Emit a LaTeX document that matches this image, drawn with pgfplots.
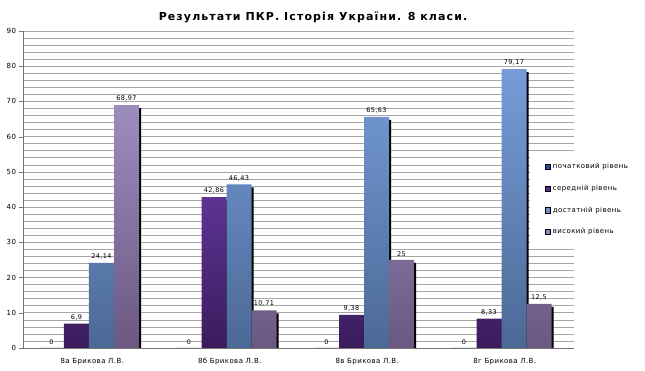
\documentclass[border=0pt]{standalone}
\usepackage{fontspec}
\setmainfont{DejaVu Sans}
\newfontfamily\titlefont[LetterSpace=10]{DejaVu Sans}
\newfontfamily\smallfont[LetterSpace=6]{DejaVu Sans}
\usepackage{pgfplots}
\pgfplotsset{compat=1.18}
\definecolor{cA}{HTML}{1F4E9C}
\definecolor{cBt}{HTML}{5C3494}
\definecolor{cBb}{HTML}{3A1C5C}
\definecolor{cCt}{HTML}{769CD8}
\definecolor{cCb}{HTML}{4B6996}
\definecolor{cDt}{HTML}{9D8CBE}
\definecolor{cDb}{HTML}{6A5882}
\definecolor{gridc}{HTML}{A6A6A6}
\pgfplotstableread{
x a b c d
0 0 6.9 24.14 68.97
1 0 42.86 46.43 10.71
2 0 9.38 65.63 25
3 0 8.33 79.17 12.5
}\datatable
\begin{document}
\begin{tikzpicture}
\path[use as bounding box] (-23.5pt,-23pt) rectangle (621.5pt,348pt);
\begin{axis}[
  at={(0pt,0pt)}, anchor=south west,
  scale only axis, width=550pt, height=317pt,
  xmin=-0.5, xmax=3.5, ymin=0, ymax=90,
  ybar, bar width=25pt,
  axis x line*=bottom, axis y line*=left,
  axis line style={gridc!70!black, line width=0.6pt},
  xtick={0,1,2,3},
  xticklabels={8а Брикова Л.В., 8б Брикова Л.В., 8в Брикова Л.В., 8г Брикова Л.В.},
  x tick label style={font=\smallfont\fontsize{7}{8}\selectfont, yshift=-3pt},
  major x tick style={draw=none},
  extra x ticks={-0.5,0.5,1.5,2.5,3.5},
  extra x tick labels={},
  extra x tick style={major tick length=4pt, tick align=outside, tick style={draw=gridc!70!black}, grid=none},
  ytick={0,10,...,90},
  minor y tick num=4,
  y tick label style={font=\smallfont\fontsize{7}{8}\selectfont},
  /pgf/number format/assume math mode=true,
  tick align=outside, major tick length=4pt, minor tick length=0pt,
  ytick style={draw=gridc!70!black},
  ymajorgrids, yminorgrids,
  major grid style={gridc, line width=0.6pt},
  minor grid style={gridc, line width=0.6pt},
  nodes near coords style={font=\smallfont\fontsize{6.5}{7}\selectfont, text=black, /pgf/number format/.cd, use comma, precision=2, assume math mode=true},
  legend image code/.code={\fill[#1] (0pt,-2.6pt) rectangle (5.2pt,2.6pt);},
  legend style={at={(0.921,0.609)}, anchor=north west, draw=none, fill=white,
    font=\smallfont\fontsize{7}{8}\selectfont, row sep=11pt, inner xsep=15pt, inner ysep=6pt,
    cells={anchor=west}, /tikz/every even column/.append style={column sep=1pt}},
]
% shadows
\addplot[forget plot, bar shift=-38.75pt, draw=none, fill=black, yshift=-3pt] table[x=x,y=a] {\datatable};
\addplot[forget plot, bar shift=-13.75pt, draw=none, fill=black, yshift=-3pt] table[x=x,y=b] {\datatable};
\addplot[forget plot, bar shift=11.25pt, draw=none, fill=black, yshift=-3pt] table[x=x,y=c] {\datatable};
\addplot[forget plot, bar shift=36.25pt, draw=none, fill=black, yshift=-3pt] table[x=x,y=d] {\datatable};
% bars
\addplot[forget plot, bar shift=-40.75pt, draw=none, fill=cA, nodes near coords] table[x=x,y=a] {\datatable};
\addplot[forget plot, bar shift=-15.75pt, draw=none, top color=cBt, bottom color=cBb, nodes near coords] table[x=x,y=b] {\datatable};
\addplot[forget plot, bar shift=9.25pt, draw=none, top color=cCt, bottom color=cCb, nodes near coords] table[x=x,y=c] {\datatable};
\addplot[forget plot, bar shift=34.25pt, draw=none, top color=cDt, bottom color=cDb, nodes near coords] table[x=x,y=d] {\datatable};
\addlegendimage{fill=cA}
\addlegendentry{початковий рівень}
\addlegendimage{fill=cBt!80!cBb}
\addlegendentry{середній рівень}
\addlegendimage{fill=cCt!80!cCb}
\addlegendentry{достатній рівень}
\addlegendimage{fill=cDt!80!cDb}
\addlegendentry{високий рівень}
\end{axis}
\node[font=\titlefont\bfseries\fontsize{11}{13}\selectfont] at (289.5pt,331pt) {Результати ПКР. Історія України. 8 класи.};
\end{tikzpicture}
\end{document}
